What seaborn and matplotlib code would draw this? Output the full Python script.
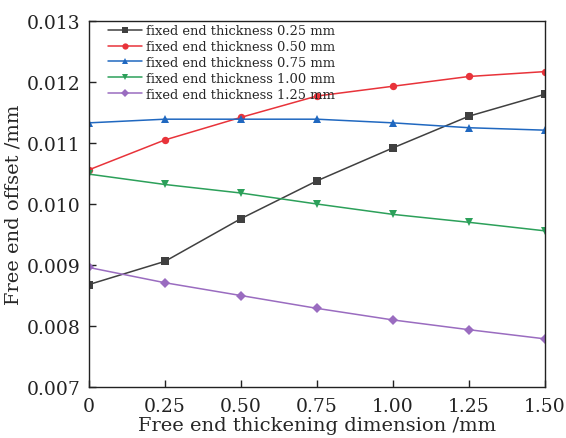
import matplotlib
matplotlib.use("Agg")
import matplotlib.pyplot as plt
import seaborn as sns
import pandas as pd

x_vals = [0, 0.25, 0.50, 0.75, 1.00, 1.25, 1.50]
s025 = [0.00868, 0.00906, 0.00976, 0.01038, 0.01092, 0.01144, 0.01180]
s050 = [0.01056, 0.01105, 0.01142, 0.01177, 0.01193, 0.01209, 0.01217]
s075 = [0.01133, 0.01139, 0.01139, 0.01139, 0.01133, 0.01125, 0.01121]
s100 = [0.01049, 0.01032, 0.01018, 0.01000, 0.00983, 0.00970, 0.00956]
s125 = [0.00896, 0.00871, 0.00850, 0.00829, 0.00810, 0.00794, 0.00779]
labels = ["fixed end thickness 0.25 mm", "fixed end thickness 0.50 mm",
          "fixed end thickness 0.75 mm", "fixed end thickness 1.00 mm",
          "fixed end thickness 1.25 mm"]
xtick_labels = ["0", "0.25", "0.50", "0.75", "1.00", "1.25", "1.50"]

sns.set_theme(style="white")
plt.rcParams['font.family'] = ['DejaVu Serif']

rows = []
for lab, ys in zip(labels, [s025, s050, s075, s100, s125]):
    for xv, yv in zip(x_vals, ys):
        rows.append({"x": xv, "y": yv, "series": lab})
df = pd.DataFrame(rows)

colors = ["#404040", "#e8333a", "#2068c0", "#2ca05a", "#9a6cc0"]
markers = ["s", "o", "^", "v", "D"]

fig = plt.figure(figsize=(5.66, 4.39), dpi=100)
ax = fig.add_axes([0.157, 0.116, 0.806, 0.834])
sns.lineplot(data=df, x="x", y="y", hue="series", style="series",
             palette=colors, markers=markers, dashes=False, ax=ax,
             markersize=5.3, linewidth=1.1, markeredgewidth=0)

ax.set_xlim(0, 1.5)
ax.set_ylim(0.007, 0.013)
ax.set_xticks(x_vals)
ax.set_xticklabels(xtick_labels)
ax.set_yticks([0.007, 0.008, 0.009, 0.010, 0.011, 0.012, 0.013])
ax.set_yticklabels(["0.007", "0.008", "0.009", "0.010", "0.011", "0.012", "0.013"])
ax.tick_params(direction="in", length=5, width=1, labelsize=13.5, colors="#222222",
               left=True, bottom=True, top=False, right=False)
ax.tick_params(axis="x", pad=7)
ax.tick_params(axis="y", pad=6)
for s in ax.spines.values():
    s.set_color("#222222")
    s.set_linewidth(1)
ax.set_xlabel("Free end thickening dimension /mm", fontsize=14, labelpad=1)
ax.set_ylabel("Free end offset /mm", fontsize=14, labelpad=3)

leg = ax.legend(loc="upper left", frameon=False, fontsize=9.4, handlelength=2.6,
                labelspacing=0.22, borderaxespad=0.0, handletextpad=0.3,
                borderpad=0.25, bbox_to_anchor=(0.035, 1.0), markerscale=0.85)

fig.savefig("out.png", dpi=100)
